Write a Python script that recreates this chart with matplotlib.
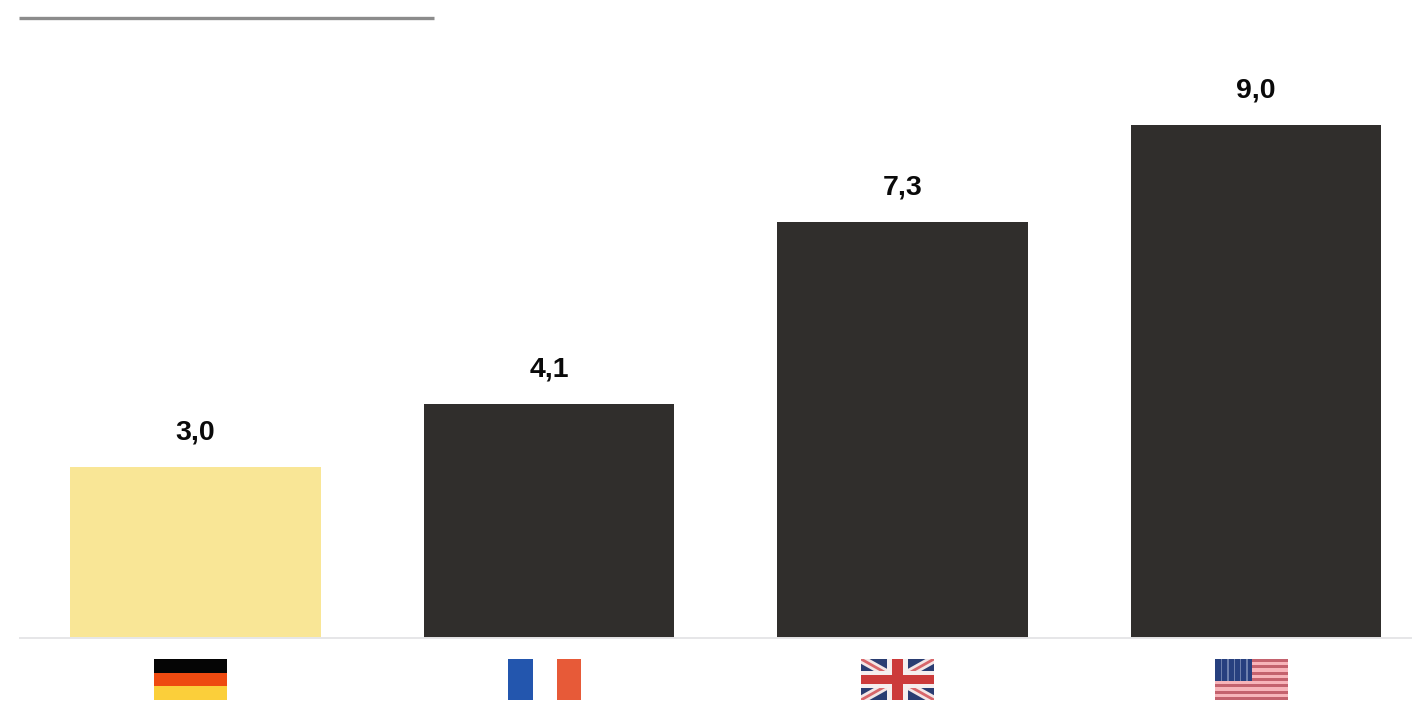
"""Balkendiagramm mit Flaggen als Kategorien -> out.png"""
import matplotlib
matplotlib.use("Agg")
import matplotlib.pyplot as plt
from matplotlib.lines import Line2D
from matplotlib.patches import Rectangle

countries = ["de", "fr", "uk", "us"]
values = [3.0, 4.1, 7.3, 9.0]
bar_colors = ["#f9e696", "#302e2c", "#302e2c", "#302e2c"]

plt.rcParams["font.family"] = ["Liberation Sans", "DejaVu Sans"]

W, H = 1412, 702
BASE_Y = 638
X0 = 195.5
STEP = 353.5
PX_PER_UNIT = 57.0


def flag_de(a):
    a.add_patch(Rectangle((0, 2 / 3), 1, 1 / 3, color="#050505", lw=0))
    a.add_patch(Rectangle((0, 1 / 3), 1, 1 / 3, color="#ee4a10", lw=0))
    a.add_patch(Rectangle((0, 0), 1, 1 / 3, color="#fbcf3a", lw=0))


def flag_fr(a):
    a.add_patch(Rectangle((0, 0), 0.35, 1, color="#2356ae", lw=0))
    a.add_patch(Rectangle((0.68, 0), 0.32, 1, color="#e75a38", lw=0))


def flag_uk(a):
    a.add_patch(Rectangle((0, 0), 1, 1, color="#2a3d72", lw=0))
    for y in (0, 1):
        a.plot([0, 1], [y, 1 - y], color="#f3e6e6", lw=6, solid_capstyle="butt", zorder=2)
        a.plot([0, 1], [y, 1 - y], color="#d8666a", lw=2, solid_capstyle="butt", zorder=2.1)
    # Kreuz muss ueber den Diagonalen liegen
    a.add_patch(Rectangle((0.36, 0), 0.28, 1, color="#f5eeee", lw=0, zorder=3))
    a.add_patch(Rectangle((0, 0.3), 1, 0.4, color="#f5eeee", lw=0, zorder=3))
    a.add_patch(Rectangle((0.43, 0), 0.14, 1, color="#cc3a3a", lw=0, zorder=4))
    a.add_patch(Rectangle((0, 0.4), 1, 0.2, color="#cc3a3a", lw=0, zorder=4))


def flag_us(a):
    for i in range(13):
        c = "#c4626e" if i % 2 == 0 else "#f7b4ba"
        a.add_patch(Rectangle((0, i / 13), 1, 1 / 13, color=c, lw=0))
    a.add_patch(Rectangle((0, 6 / 13), 0.52, 7 / 13, color="#27407f", lw=0))
    for k in range(1, 6):
        a.add_patch(Rectangle((k * 0.087, 6 / 13), 0.018, 7 / 13, color="#6d80ad", lw=0))


flag_funcs = {"de": flag_de, "fr": flag_fr, "uk": flag_uk, "us": flag_us}

fig = plt.figure(figsize=(W / 100, H / 100), dpi=100, facecolor="white")
ax = fig.add_axes([19 / W, (H - BASE_Y) / H, (W - 19) / W, BASE_Y / H])

x = list(range(len(values)))
ax.bar(x, values, width=0.71, color=bar_colors, linewidth=0)
ax.set_xlim((19 - X0) / STEP, (W - X0) / STEP)
ax.set_ylim(0, BASE_Y / PX_PER_UNIT)
ax.axis("off")

for xi, v in zip(x, values):
    ax.annotate(f"{v:.1f}".replace(".", ","), (xi, v), xytext=(0, 25), textcoords="offset points",
                ha="center", va="center", fontsize=20.5, fontweight="bold", color="#0a0a0a")

# Grundlinie und Linie oben
fig.add_artist(Line2D([19 / W, 1], [(H - BASE_Y) / H] * 2, color="#e6e6e8", lw=1.4, solid_capstyle="butt"))
fig.add_artist(Line2D([19 / W, 434 / W], [(H - 18) / H] * 2, color="#8c8c8c", lw=2.4, solid_capstyle="butt"))

# Flaggen unter den Balken, im Original leicht nach links versetzt
flag_w = 73 / STEP
flag_shift = -5 / STEP
for xi, code in zip(x, countries):
    fa = ax.inset_axes([xi + flag_shift - flag_w / 2, -62 / BASE_Y, flag_w, 41 / BASE_Y],
                       transform=ax.get_xaxis_transform())
    fa.set_xlim(0, 1)
    fa.set_ylim(0, 1)
    fa.axis("off")
    flag_funcs[code](fa)

fig.savefig("out.png", dpi=100, facecolor="white")
